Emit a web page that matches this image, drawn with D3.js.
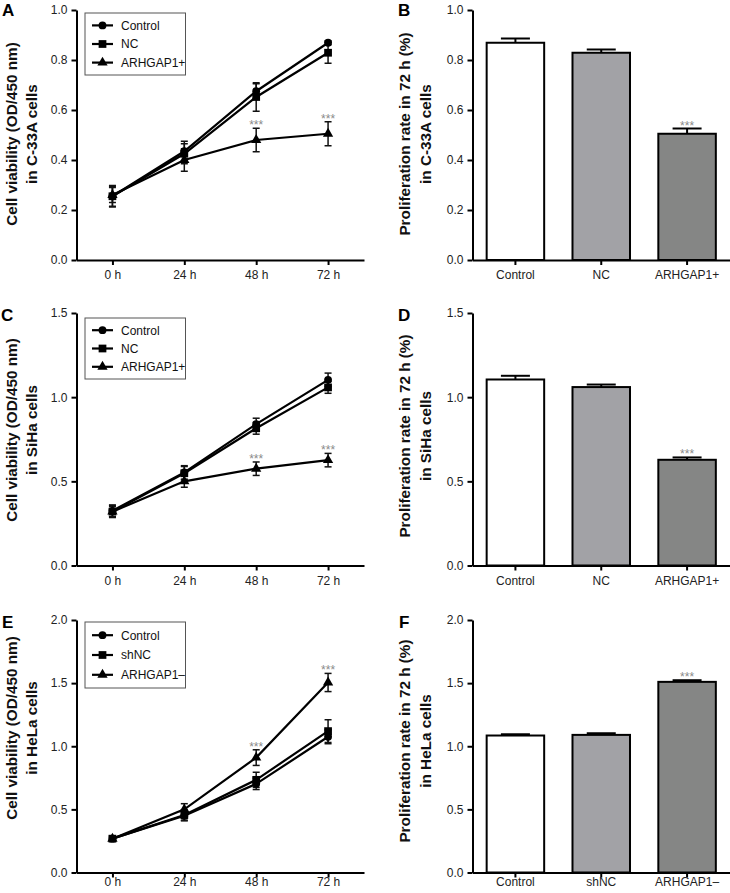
<!DOCTYPE html>
<html><head><meta charset="utf-8">
<script src="https://cdn.jsdelivr.net/npm/d3@7"></script>
<style>body{margin:0;background:#fff}svg{display:block;font-family:"Liberation Sans",Arial,sans-serif}</style>
</head><body><svg id="c" width="730" height="893"></svg>
<script>
// ---------- DATA ----------
const timeLabels = ["0 h", "24 h", "48 h", "72 h"];

// Panel A / B : C-33A cells
const groupsAB = ["Control", "NC", "ARHGAP1+"];
const controlA = [0.255, 0.435, 0.675, 0.869];
const controlAErr = [0.043, 0.04, 0.03, 0.008];
const ncA = [0.255, 0.425, 0.652, 0.829];
const ncAErr = [0.04, 0.04, 0.057, 0.042];
const arhgapA = [0.26, 0.40, 0.48, 0.505];
const arhgapAErr = [0.03, 0.045, 0.047, 0.048];
const sigA = [false, false, true, true];
const ticksA = [0, 0.2, 0.4, 0.6, 0.8, 1.0];
const barB = [0.869, 0.829, 0.505];
const barBErr = [0.017, 0.013, 0.021];
const sigB = [false, false, true];

// Panel C / D : SiHa cells
const groupsCD = ["Control", "NC", "ARHGAP1+"];
const controlC = [0.325, 0.553, 0.84, 1.103];
const controlCErr = [0.035, 0.04, 0.035, 0.04];
const ncC = [0.32, 0.548, 0.815, 1.058];
const ncCErr = [0.035, 0.04, 0.035, 0.035];
const arhgapC = [0.32, 0.50, 0.575, 0.626];
const arhgapCErr = [0.03, 0.035, 0.04, 0.04];
const sigC = [false, false, true, true];
const ticksC = [0, 0.5, 1.0, 1.5];
const barD = [1.105, 1.06, 0.628];
const barDErr = [0.022, 0.015, 0.014];
const sigD = [false, false, true];

// Panel E / F : HeLa cells
const groupsEF = ["Control", "shNC", "ARHGAP1\u2013"];
const controlE = [0.268, 0.449, 0.702, 1.075];
const controlEErr = [0.02, 0.04, 0.045, 0.055];
const ncE = [0.268, 0.455, 0.734, 1.12];
const ncEErr = [0.02, 0.04, 0.06, 0.09];
const arhgapE = [0.268, 0.50, 0.91, 1.505];
const arhgapEErr = [0.02, 0.045, 0.062, 0.072];
const sigE = [false, false, true, true];
const ticksE = [0, 0.5, 1.0, 1.5, 2.0];
const barF = [1.085, 1.09, 1.51];
const barFErr = [0.01, 0.013, 0.013];
const sigF = [false, false, true];

// ---------- DRAWING ----------
const svg = d3.select("#c");
const symbols = [d3.symbolCircle, d3.symbolSquare, d3.symbolTriangle];
const symSizes = [48, 60, 46];
const barFills = ["#ffffff", "#a2a2a6", "#858685"];

function yAxisTitle(g, lines, x1, x2, cy) {
  [x1, x2].forEach((x, i) => {
    g.append("text")
      .attr("transform", `translate(${x},${cy}) rotate(-90)`)
      .attr("text-anchor", "middle")
      .attr("font-size", 15.3).attr("font-weight", "bold").attr("fill", "#111")
      .text(lines[i]);
  });
}

function styleAxis(sel) {
  sel.selectAll("path.domain").attr("stroke", "#000").attr("stroke-width", 2);
  sel.selectAll(".tick line").attr("stroke", "#000").attr("stroke-width", 2);
  sel.selectAll(".tick text").attr("font-size", 12).attr("fill", "#222")
     .attr("font-family", '"Liberation Sans", Arial, sans-serif');
}

function linePanel(cfg) {
  const g = svg.append("g");
  const x = d3.scalePoint().domain(timeLabels).range([cfg.left, cfg.right]).padding(0.5);
  const y = d3.scaleLinear().domain([0, cfg.ticks[cfg.ticks.length - 1]]).range([cfg.bottom, cfg.top]);

  const ax = g.append("g").attr("transform", `translate(0,${cfg.bottom})`)
    .call(d3.axisBottom(x).tickSize(5).tickSizeOuter(0).tickPadding(cfg.xpad));
  styleAxis(ax);
  const ay = g.append("g").attr("transform", `translate(${cfg.left},0)`)
    .call(d3.axisLeft(y).tickValues(cfg.ticks).tickFormat(d3.format(".1f")).tickSize(5).tickSizeOuter(0).tickPadding(4));
  styleAxis(ay);

  const series = cfg.series;
  const line = d3.line().x((d, i) => x(timeLabels[i])).y(d => y(d));
  series.forEach(s => {
    s.values.forEach((v, i) => {
      const cx = x(timeLabels[i]);
      const e = s.errs[i];
      g.append("line").attr("x1", cx).attr("x2", cx).attr("y1", y(v - e)).attr("y2", y(v + e))
        .attr("stroke", "#111").attr("stroke-width", 1.5);
      [v - e, v + e].forEach(t => g.append("line").attr("x1", cx - 3.5).attr("x2", cx + 3.5)
        .attr("y1", y(t)).attr("y2", y(t)).attr("stroke", "#111").attr("stroke-width", 1.5));
    });
  });
  series.forEach(s => {
    g.append("path").datum(s.values).attr("d", line).attr("fill", "none")
      .attr("stroke", "#000").attr("stroke-width", 2.2);
  });
  series.forEach((s, k) => {
    s.values.forEach((v, i) => {
      g.append("path").attr("d", d3.symbol(symbols[k], symSizes[k])())
        .attr("transform", `translate(${x(timeLabels[i])},${y(v)})`).attr("fill", "#000");
    });
  });
  const sig = series[2];
  cfg.sig.forEach((f, i) => {
    if (!f) return;
    const yy = y(sig.values[i] + sig.errs[i]);
    g.append("text").attr("x", x(timeLabels[i])).attr("y", yy + 1)
      .attr("text-anchor", "middle").attr("font-size", 12).attr("fill", "#8a8a8a").text("***");
  });
  const lg = g.append("g");
  lg.append("rect").attr("x", cfg.legX).attr("y", cfg.legY).attr("width", 100.5).attr("height", cfg.legH)
    .attr("fill", "#fff").attr("stroke", "#555").attr("stroke-width", 1);
  series.forEach((s, k) => {
    const ly = cfg.legY + cfg.legH * (0.2 + 0.3 * k);
    lg.append("line").attr("x1", cfg.legX + 7).attr("x2", cfg.legX + 28).attr("y1", ly).attr("y2", ly)
      .attr("stroke", "#000").attr("stroke-width", 2.2);
    lg.append("path").attr("d", d3.symbol(symbols[k], symSizes[k])())
      .attr("transform", `translate(${cfg.legX + 17.5},${ly})`).attr("fill", "#000");
    lg.append("text").attr("x", cfg.legX + 36).attr("y", ly + 4.3).attr("font-size", 12)
      .attr("fill", "#111").text(s.name);
  });
  yAxisTitle(g, cfg.title, cfg.t1, cfg.t2, cfg.tcy);
  g.append("text").attr("x", cfg.lx).attr("y", cfg.ly).attr("font-size", 17).attr("font-weight", "bold")
    .attr("fill", "#000").text(cfg.letter);
}

function barPanel(cfg) {
  const g = svg.append("g");
  const x = d3.scaleBand().domain(cfg.groups).range([cfg.left, cfg.right]).paddingInner(0.33).paddingOuter(0.165);
  const y = d3.scaleLinear().domain([0, cfg.ticks[cfg.ticks.length - 1]]).range([cfg.bottom, cfg.top]);
  cfg.groups.forEach((grp, i) => {
    const v = cfg.values[i], e = cfg.errs[i];
    const cx = x(grp) + x.bandwidth() / 2;
    g.append("line").attr("x1", cx).attr("x2", cx).attr("y1", y(v)).attr("y2", y(v + e))
      .attr("stroke", "#000").attr("stroke-width", 2);
    g.append("line").attr("x1", cx - 14.5).attr("x2", cx + 14.5).attr("y1", y(v + e)).attr("y2", y(v + e))
      .attr("stroke", "#000").attr("stroke-width", 2);
    g.append("rect").attr("x", x(grp)).attr("y", y(v)).attr("width", x.bandwidth())
      .attr("height", y(0) - y(v)).attr("fill", barFills[i]).attr("stroke", "#000").attr("stroke-width", 2);
    if (cfg.sig[i]) {
      g.append("text").attr("x", cx).attr("y", y(v + e) + 1).attr("text-anchor", "middle")
        .attr("font-size", 12).attr("fill", "#8a8a8a").text("***");
    }
  });
  const ax = g.append("g").attr("transform", `translate(0,${cfg.bottom})`)
    .call(d3.axisBottom(x).tickSize(5).tickSizeOuter(0).tickPadding(cfg.xpad));
  styleAxis(ax);
  const ay = g.append("g").attr("transform", `translate(${cfg.left},0)`)
    .call(d3.axisLeft(y).tickValues(cfg.ticks).tickFormat(d3.format(".1f")).tickSize(5).tickSizeOuter(0).tickPadding(4));
  styleAxis(ay);
  yAxisTitle(g, cfg.title, cfg.t1, cfg.t2, cfg.tcy);
  g.append("text").attr("x", cfg.lx).attr("y", cfg.ly).attr("font-size", 17).attr("font-weight", "bold")
    .attr("fill", "#000").text(cfg.letter);
}

const mk = (names, vals, errs) => names.map((n, k) => ({ name: n, values: vals[k], errs: errs[k] }));

linePanel({ letter: "A", lx: 2, ly: 16, left: 76.5, right: 364, top: 10, bottom: 260, ticks: ticksA, xpad: 5.5,
  series: mk(groupsAB, [controlA, ncA, arhgapA], [controlAErr, ncAErr, arhgapAErr]), sig: sigA,
  legX: 85, legY: 13, legH: 62,
  title: ["Cell viability (OD/450 nm)", "in C-33A cells"], t1: 17, t2: 37, tcy: 134 });
barPanel({ letter: "B", lx: 398, ly: 16, left: 472.5, right: 730, top: 10, bottom: 260, ticks: ticksA, xpad: 5.5,
  groups: groupsAB, values: barB, errs: barBErr, sig: sigB,
  title: ["Proliferation rate in 72 h (%)", "in C-33A cells"], t1: 410, t2: 431, tcy: 134 });

linePanel({ letter: "C", lx: 1, ly: 321, left: 76.5, right: 364, top: 313, bottom: 565.5, ticks: ticksC, xpad: 5.5,
  series: mk(groupsCD, [controlC, ncC, arhgapC], [controlCErr, ncCErr, arhgapCErr]), sig: sigC,
  legX: 85, legY: 318, legH: 61,
  title: ["Cell viability (OD/450 nm)", "in SiHa cells"], t1: 17, t2: 37, tcy: 430 });
barPanel({ letter: "D", lx: 398, ly: 321, left: 472.5, right: 730, top: 313, bottom: 565.5, ticks: ticksC, xpad: 5.5,
  groups: groupsCD, values: barD, errs: barDErr, sig: sigD,
  title: ["Proliferation rate in 72 h (%)", "in SiHa cells"], t1: 410, t2: 431, tcy: 436 });

linePanel({ letter: "E", lx: 2, ly: 628, left: 76.5, right: 364, top: 620, bottom: 872.5, ticks: ticksE, xpad: 0,
  series: mk(groupsEF, [controlE, ncE, arhgapE], [controlEErr, ncEErr, arhgapEErr]), sig: sigE,
  legX: 85, legY: 622, legH: 66,
  title: ["Cell viability (OD/450 nm)", "in HeLa cells"], t1: 17, t2: 37, tcy: 728 });
barPanel({ letter: "F", lx: 399, ly: 628, left: 472.5, right: 730, top: 620, bottom: 872.5, ticks: ticksE, xpad: 0,
  groups: groupsEF, values: barF, errs: barFErr, sig: sigF,
  title: ["Proliferation rate in 72 h (%)", "in HeLa cells"], t1: 410, t2: 431, tcy: 741 });
</script></body></html>
